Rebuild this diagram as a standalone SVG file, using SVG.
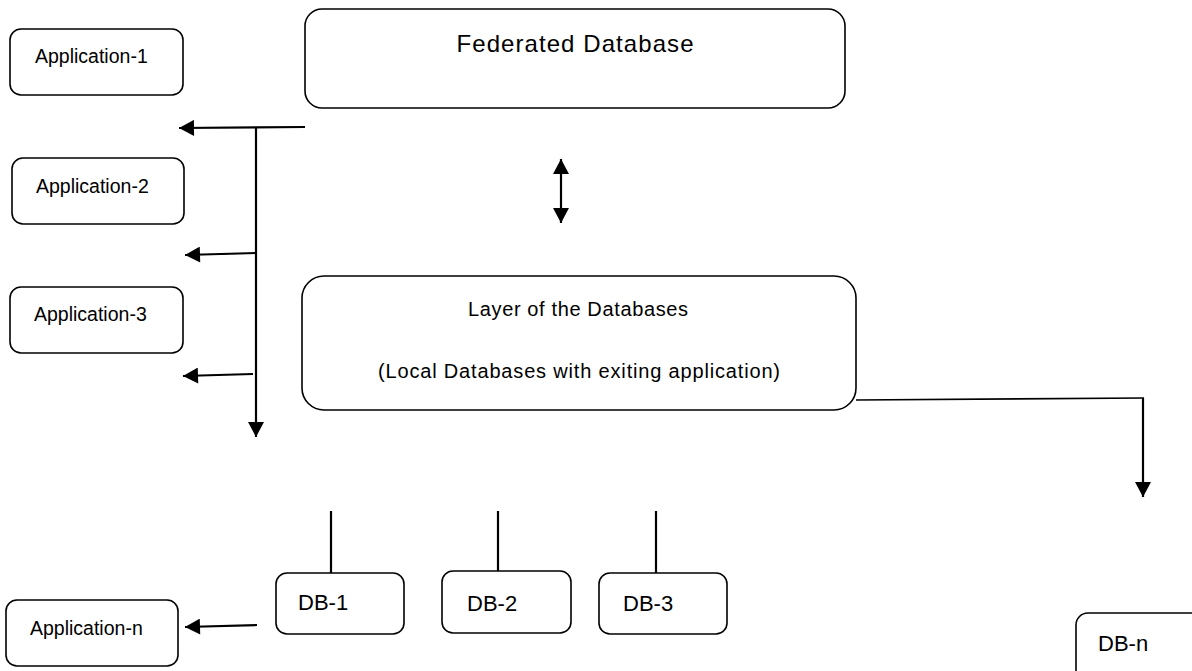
<svg xmlns="http://www.w3.org/2000/svg" width="1192" height="671" viewBox="0 0 1192 671">
<style>
.box{fill:#fff;stroke:#000;stroke-width:1.6}
.t{font-family:"Liberation Sans",Arial,sans-serif;fill:#000}
.app{font-size:19.5px}
.db{font-size:22px}
.ln{stroke:#000;stroke-width:2.2;fill:none}
.thin{stroke:#000;stroke-width:1.6;fill:none}
.arr{marker-end:url(#ah)}
</style>
<defs>
<marker id="ah" markerUnits="userSpaceOnUse" markerWidth="16" markerHeight="16" viewBox="0 0 15 16" refX="15" refY="8" orient="auto-start-reverse">
<path d="M0,0 L15,8 L0,16 z" fill="#000"/>
</marker>
</defs>
<rect width="1192" height="671" fill="#fff"/>
<g id="app1"><rect class="box" x="10" y="29" width="173" height="66" rx="11"/><text class="t app" x="35" y="63">Application-1</text></g>
<g id="app2"><rect class="box" x="12" y="158" width="172" height="66" rx="11"/><text class="t app" x="36" y="193">Application-2</text></g>
<g id="app3"><rect class="box" x="10" y="287" width="173" height="66" rx="11"/><text class="t app" x="34" y="321">Application-3</text></g>
<g id="appn"><rect class="box" x="6" y="600" width="172" height="66" rx="11"/><text class="t app" x="30" y="635">Application-n</text></g>
<g id="federated"><rect class="box" x="305" y="9" width="540" height="99" rx="17"/><text class="t" x="575" y="52" font-size="24" text-anchor="middle" textLength="237" lengthAdjust="spacing">Federated Database</text></g>
<g id="layer"><rect class="box" x="302" y="276" width="554" height="134" rx="22"/><text class="t" x="578" y="316" font-size="20" text-anchor="middle" textLength="220" lengthAdjust="spacing">Layer of the Databases</text><text class="t" x="579" y="378" font-size="20" text-anchor="middle" textLength="402" lengthAdjust="spacing">(Local Databases with exiting application)</text></g>
<g id="db1"><rect class="box" x="276" y="573" width="128" height="61" rx="11"/><text class="t db" x="298" y="610">DB-1</text></g>
<g id="db2"><rect class="box" x="442" y="571" width="129" height="62" rx="11"/><text class="t db" x="467" y="611">DB-2</text></g>
<g id="db3"><rect class="box" x="599" y="573" width="128" height="61" rx="11"/><text class="t db" x="623" y="611">DB-3</text></g>
<g id="dbn"><rect class="box" x="1076" y="613" width="140" height="80" rx="12"/><text class="t db" x="1098" y="651">DB-n</text></g>
<g id="connectors">
<line class="ln arr" x1="305" y1="127" x2="179" y2="128"/>
<line class="ln arr" x1="256" y1="127" x2="256" y2="437"/>
<line class="ln arr" x1="256" y1="253" x2="185" y2="255"/>
<line class="ln arr" x1="253" y1="374" x2="183" y2="376"/>
<line class="ln" x1="561" y1="159" x2="561" y2="223" marker-start="url(#ah)" marker-end="url(#ah)"/>
<line class="thin" x1="856" y1="400" x2="1144" y2="398"/>
<line class="ln arr" x1="1143" y1="398" x2="1143" y2="497"/>
<line class="ln" x1="331" y1="511" x2="331" y2="573"/>
<line class="ln" x1="498" y1="511" x2="498" y2="571"/>
<line class="ln" x1="656" y1="511" x2="656" y2="573"/>
<line class="ln arr" x1="257" y1="625" x2="185" y2="627"/>
</g>
</svg>
